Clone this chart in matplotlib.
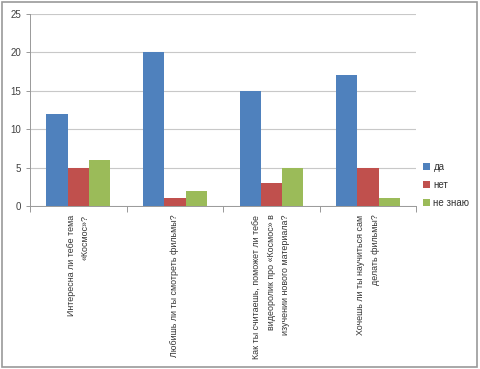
import numpy as np
import matplotlib.pyplot as plt
from matplotlib.patches import Rectangle

# survey data
questions = [
    "Интересна ли тебе тема\n«Космос»?",
    "Любишь ли ты смотреть фильмы?",
    "Как ты считаешь, поможет ли тебе\nвидеоролик про «Космос» в\nизучении нового материала?",
    "Хочешь ли ты научиться сам\nделать фильмы?",
]
answers = ["да", "нет", "не знаю"]
yes_vals = [12, 20, 15, 17]
no_vals = [5, 1, 3, 5]
dunno_vals = [6, 2, 5, 1]
colors = ["#4F81BD", "#C0504D", "#9BBB59"]

plt.rcParams['font.family'] = ['Liberation Sans', 'DejaVu Sans']

fig = plt.figure(figsize=(4.8, 3.69), dpi=100)
ax = fig.add_axes([0.0625, 0.442, 0.805, 0.52])

x = np.arange(len(questions))
w = 0.22
for i, (vals, lab) in enumerate(zip([yes_vals, no_vals, dunno_vals], answers)):
    ax.bar(x + (i - 1) * w, vals, w, color=colors[i], label=lab, zorder=3)

ax.set_xlim(-0.5, len(questions) - 0.5)
ax.set_ylim(0, 25)
ax.set_yticks(range(0, 26, 5))
ax.tick_params(axis='y', labelsize=7, colors='#404040', length=3, width=0.6, color='#888888')
ax.yaxis.grid(True, color='#c8c8c8', linewidth=0.8, zorder=0)

# category ticks sit on the boundaries
ax.set_xticks(np.arange(-0.5, len(questions)), minor=False)
ax.set_xticklabels([])
ax.tick_params(axis='x', length=4, width=0.6, color='#888888')
for xi, q in zip(x, questions):
    ax.text(xi, -0.045, q, transform=ax.get_xaxis_transform(), rotation=90,
            ha='center', va='top', multialignment='right', fontsize=6.4,
            linespacing=1.75, color='#333333')

for s in ['top', 'right']:
    ax.spines[s].set_visible(False)
for s in ['left', 'bottom']:
    ax.spines[s].set_color('#999999')
    ax.spines[s].set_linewidth(0.7)

leg = ax.legend(loc='center left', bbox_to_anchor=(0.995, 0.11), frameon=False,
                fontsize=7, handlelength=0.7, handleheight=0.7, handletextpad=0.35,
                labelspacing=0.85)
for t in leg.get_texts():
    t.set_color('#333333')

# outer border of the chart
fig.patches.append(Rectangle((0.004, 0.005), 0.99, 0.99, transform=fig.transFigure,
                             fill=False, edgecolor='#9a9a9a', linewidth=1.2))

fig.savefig('out.png', dpi=100)
